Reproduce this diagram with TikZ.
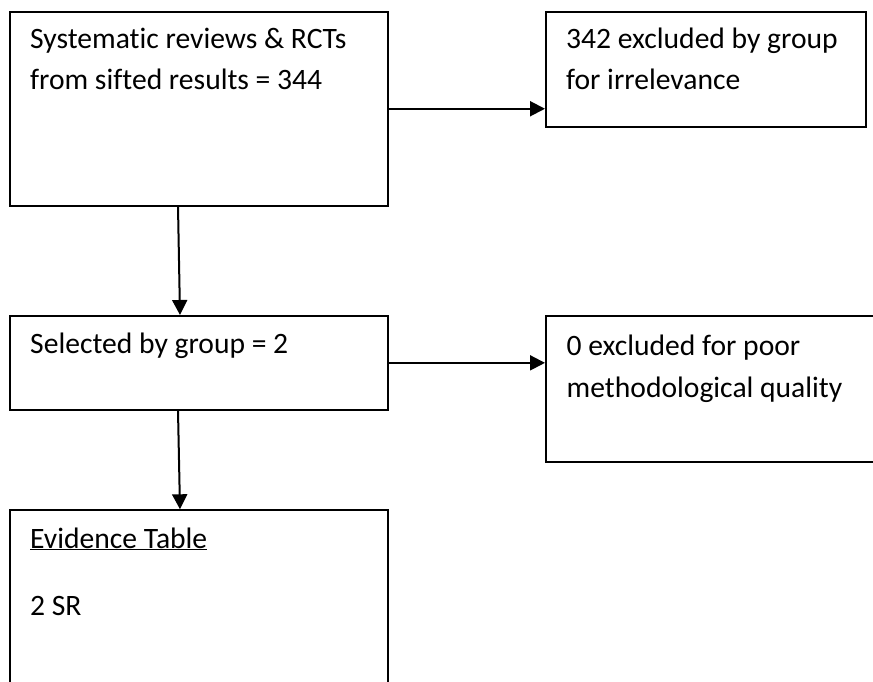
\documentclass[tikz,border=0pt]{standalone}
\usepackage{fontspec}
\setmainfont{Carlito}[Ligatures=NoCommon]
\usetikzlibrary{arrows.meta}
\begin{document}
\begin{tikzpicture}[x=1pt,y=-1pt,
  box/.style={draw, line width=2pt, anchor=north west, inner sep=0pt},
  txt/.style={anchor=base west, inner sep=0pt, font=\fontsize{29.6}{41}\selectfont},
  arr/.style={-{Triangle[length=15pt,width=15pt]}, line width=2pt}]
\useasboundingbox (0,0) rectangle (873,682);
\clip (0,0) rectangle (873,682);
% boxes
\node[box, minimum width=378pt, minimum height=193.5pt] (b1) at (8.5,11) {};
\node[box, minimum width=320pt, minimum height=115pt] (b2) at (545,11) {};
\node[box, minimum width=378pt, minimum height=93.7pt] (b3) at (8.5,315) {};
\node[box, minimum width=345pt, minimum height=146pt] (b4) at (545,315) {};
\node[box, minimum width=378pt, minimum height=220pt] (b5) at (8.5,509.3) {};
% texts
\node[txt] (t1a) at (30,49) {Systematic reviews \& RCTs};
\node[txt] (t1b) at (30,90) {from sifted results = 344};
\node[txt] (t2a) at (566,49) {342 excluded by group};
\node[txt] (t2b) at (566,90) {for irrelevance};
\node[txt] (t3) at (30,353) {Selected by group = 2};
\node[txt] (t4a) at (566.5,355) {0 excluded for poor};
\node[txt] (t4b) at (566.5,397) {methodological quality};
\node[txt] (t5a) at (30,548) {\underline{Evidence Table}};
\node[txt] (t5b) at (30,615) {2 SR};
% connectors
\draw[arr] (b1.east) -- (b1.east -| b2.west);
\draw[arr] (b3.east) -- (b3.east -| b4.west);
\draw[arr] ([xshift=-20.5pt]b1.south) -- ([xshift=-18.5pt]b3.north);
\draw[arr] ([xshift=-20.5pt]b3.south) -- ([xshift=-18.5pt]b5.north);
\end{tikzpicture}
\end{document}
